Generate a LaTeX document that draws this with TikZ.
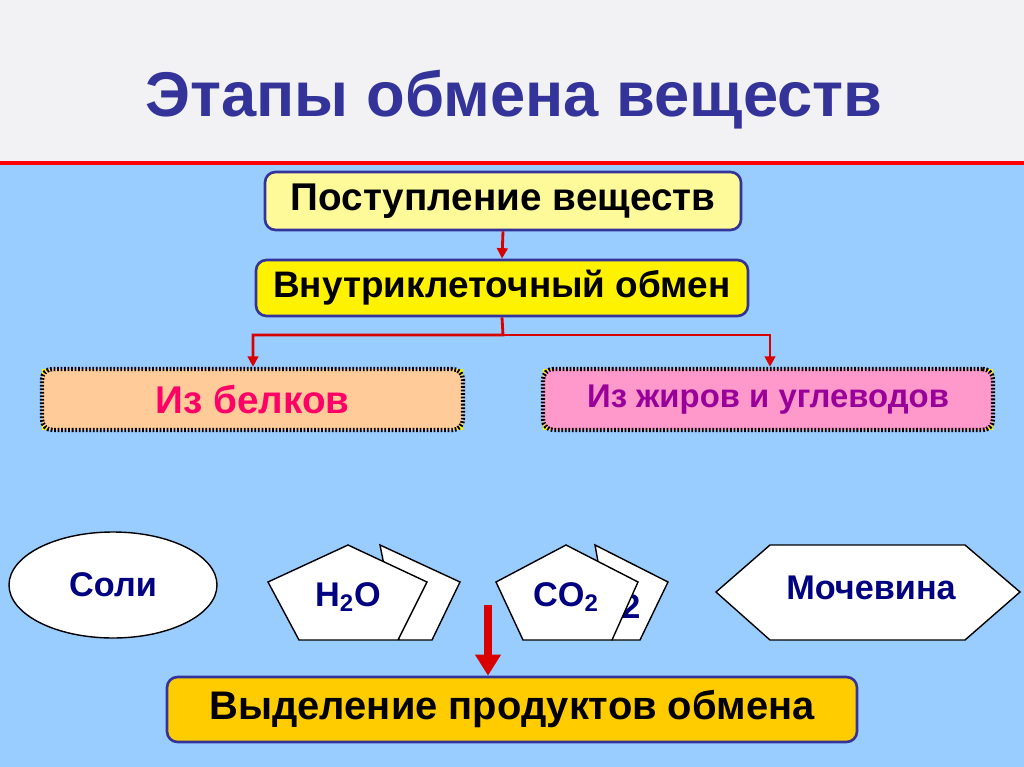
\documentclass[tikz,border=0pt]{standalone}
\usepackage{fontspec}
\setmainfont{Liberation Sans}
\usetikzlibrary{shapes.geometric,arrows.meta}
\definecolor{navy}{HTML}{333399}
\definecolor{bg}{HTML}{99CCFF}
\definecolor{ink}{HTML}{000080}
\definecolor{band}{HTML}{F2F2F5}
\tikzset{
  box/.style={draw=navy,line width=1.5pt,rounded corners=6pt},
  dbox/.style={draw=black,dash pattern=on 1pt off 1pt,line width=2.5pt,rounded corners=6pt},
  conn/.style={draw=red!85!black,line width=1.6pt,-{Triangle[length=6pt,width=6pt]}},
  shp/.style={draw=black,fill=white,line width=0.8pt},
  lbl/.style={font=\fontsize{19.5}{22}\selectfont\bfseries,text=ink}
}
\begin{document}
\begin{tikzpicture}[x=0.02cm,y=-0.02cm]
\useasboundingbox (0,0) rectangle (1024,767);
\fill[band] (0,0) rectangle (1024,163);
\fill[bg] (0,163) rectangle (1024,767);
\draw[red,line width=2.5pt] (0,163) -- (1024,163);
\node[text=navy,font=\bfseries\fontsize{36}{40}\selectfont] (title) at (514,100) {Этапы обмена веществ};
\node[box,fill=yellow!40,minimum width=476*0.02cm,minimum height=58*0.02cm,font=\bfseries\fontsize{22}{26}\selectfont] (p) at (503,201) {Поступление веществ};
\node[box,fill=yellow,minimum width=492*0.02cm,minimum height=56*0.02cm,font=\bfseries\fontsize{21}{24}\selectfont] (v) at (502,288) {Внутриклеточный обмен};
\fill[yellow] (42,369) rectangle (463,430);
\node[dbox,fill={rgb,255:red,255;green,204;blue,153},minimum width=421*0.02cm,minimum height=61*0.02cm,text={rgb,255:red,255;green,0;blue,102},font=\bfseries\fontsize{22}{26}\selectfont] (b) at (252.5,399.5) {Из белков};
\fill[yellow] (543,369) rectangle (993,430);
\node[dbox,fill={rgb,255:red,255;green,153;blue,204},minimum width=450*0.02cm,minimum height=61*0.02cm,text={rgb,255:red,153;green,0;blue,153},font=\bfseries\fontsize{18.7}{22}\selectfont] (z) at (768,399.5) {\raisebox{4pt}{Из жиров и углеводов}};
\coordinate (j) at (503,335);
\draw[conn] (p.south) -- (v.north);
\draw[conn] (v.south) -- (j) -| (b.north -| 253,0);
\draw[conn] (j) -| (z.north -| 770,0);
% shapes
\node[ellipse,shp,minimum width=208*0.02cm,minimum height=106*0.02cm] (s) at (113,585) {};
\node[lbl] at (113,585) {Соли};
\draw[shp] (380,545) -- (460,582) -- (432,640) -- (399,640) -- cycle;
\draw[shp] (348,545) -- (427,582) -- (398,640) -- (299,640) -- (268,582) -- cycle;
\node[lbl] (h) at (348,597) {H\textsubscript{2}O};
\draw[shp] (595,545) -- (668,582) -- (640,640) -- (612,640) -- cycle;
\node[lbl] at (631,607) {2};
\draw[shp] (566,545) -- (638,582) -- (612,640) -- (523,640) -- (496,582) -- cycle;
\node[lbl] (c) at (566,597) {CO\textsubscript{2}};
\draw[shp] (716,592) -- (770,545) -- (965,545) -- (1020,592) -- (965,640) -- (770,640) -- cycle;
\node[lbl] (m) at (871,588) {Мочевина};
\node[box,fill={rgb,255:red,255;green,204;blue,0},minimum width=690*0.02cm,minimum height=65*0.02cm,font=\bfseries\fontsize{22.7}{26}\selectfont] (o) at (512,709.5) {Выделение продуктов обмена};
\coordinate (a0) at (488,605);
\draw[red!85!black,line width=4pt,-{Triangle[length=12pt,width=14pt]}] (a0) -- (o.north -| a0);
\end{tikzpicture}
\end{document}
